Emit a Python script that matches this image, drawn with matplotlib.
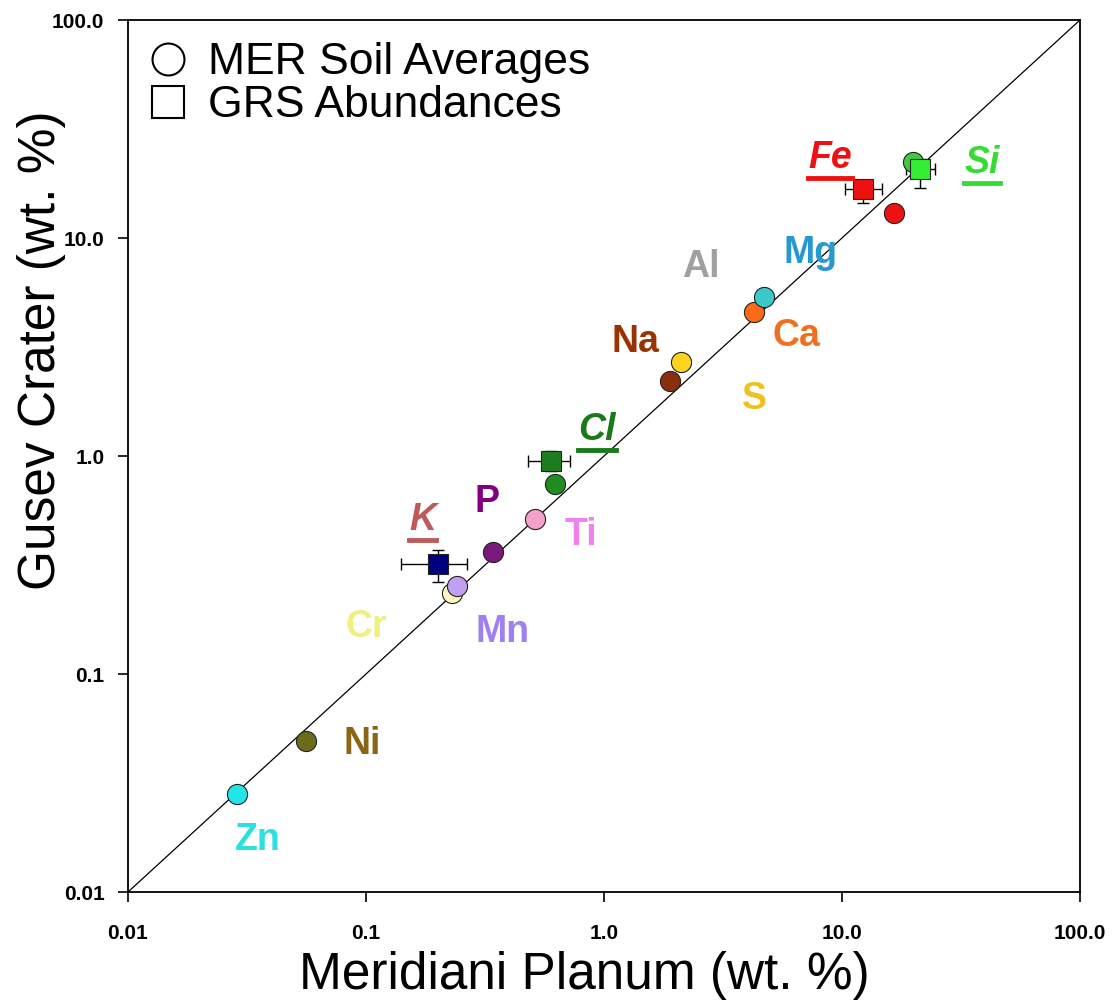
import numpy as np
import matplotlib
matplotlib.use('Agg')
import matplotlib.pyplot as plt
from matplotlib.lines import Line2D

plt.rcParams['font.family'] = ['Liberation Sans', 'DejaVu Sans']

# MER soil averages (circles), wt. %
soil_elements = ['Zn', 'Ni', 'Cr', 'Mn', 'P', 'Ti', 'Cl', 'Na', 'S', 'Ca', 'Mg', 'Fe', 'Si']
soil_meridiani = [0.0287, 0.056, 0.23, 0.241, 0.342, 0.513, 0.622, 1.89, 2.11, 4.27, 4.70, 16.5, 19.9]
soil_gusev = [0.0282, 0.0493, 0.236, 0.254, 0.363, 0.514, 0.744, 2.21, 2.70, 4.58, 5.36, 13.0, 22.3]
soil_colors = ['#22E5E8', '#6B6B1A', '#FFF5C0', '#C0A0F0', '#7A1A7A', '#F5A0C8', '#1E8C1E',
               '#8B2E0A', '#FFD21E', '#FF6A1A', '#3CC8C8', '#EE1111', '#3CCC3C']

# GRS abundances (squares) with error ranges
grs_elements = ['K', 'Cl', 'Fe', 'Si']
grs_meridiani = [0.20, 0.598, 12.3, 21.3]
grs_gusev = [0.32, 0.948, 16.8, 20.7]
grs_x_low = [0.140, 0.479, 10.3, 18.5]
grs_x_high = [0.265, 0.72, 14.7, 24.6]
grs_y_low = [0.264, 0.85, 14.5, 16.9]
grs_y_high = [0.37, 1.05, 18.5, 23.0]
grs_colors = ['#00007F', '#1E7D1E', '#EE1111', '#33EE33']

# element labels
label_text = ['Fe', 'Si', 'Mg', 'Al', 'Na', 'Ca', 'S', 'Cl', 'P', 'Ti', 'K', 'Mn', 'Cr', 'Ni', 'Zn']
label_colors = ['#EE1111', '#33DD33', '#2898D0', '#A0A0A0', '#993300', '#F07020', '#F0C020',
                '#1A7A1A', '#800080', '#EE82EE', '#C05A5A', '#A080F0', '#F0F080', '#8B6414', '#2CE0E0']
underlined = ['Fe', 'Si', 'Cl', 'K']

# where each label sits (data coords)
label_pos = {'Fe': (8.91, 23.3), 'Si': (38.7, 22.1), 'Mg': (7.41, 8.53), 'Al': (2.56, 7.36),
             'Na': (1.36, 3.33), 'Ca': (6.41, 3.55), 'S': (4.27, 1.83), 'Cl': (0.935, 1.32),
             'P': (0.322, 0.615), 'Ti': (0.80, 0.434), 'K': (0.173, 0.509), 'Mn': (0.373, 0.156),
             'Cr': (0.10, 0.164), 'Ni': (0.0962, 0.0477), 'Zn': (0.0352, 0.0173)}

ticks = [0.01, 0.1, 1.0, 10.0, 100.0]
tick_labels = ['0.01', '0.1', '1.0', '10.0', '100.0']

fig = plt.figure(figsize=(11.17, 10.05), dpi=100)
ax = fig.add_axes([128 / 1117, 1 - 892 / 1005, 952 / 1117, 872 / 1005])

ax.plot([0.01, 100], [0.01, 100], color='black', lw=0.9, zorder=1)

for x, y, c in zip(soil_meridiani, soil_gusev, soil_colors):
    ax.plot(x, y, 'o', ms=14.5, mfc=c, mec='#222222', mew=0.8, zorder=3)

gm = np.array(grs_meridiani)
gg = np.array(grs_gusev)
xerr = [gm - np.array(grs_x_low), np.array(grs_x_high) - gm]
yerr = [gg - np.array(grs_y_low), np.array(grs_y_high) - gg]
ax.errorbar(gm, gg, xerr=xerr, yerr=yerr, fmt='none', ecolor='black', elinewidth=1,
            capsize=4.5, capthick=1, zorder=2)
for x, y, c in zip(grs_meridiani, grs_gusev, grs_colors):
    ax.plot(x, y, 's', ms=14, mfc=c, mec='#222222', mew=0.8, zorder=4)

texts = []
for name, col in zip(label_text, label_colors):
    x, y = label_pos[name]
    style = 'italic' if name in underlined else 'normal'
    t = ax.text(x, y, name, color=col, fontsize=27, fontweight='bold', style=style,
                ha='center', va='center', zorder=5)
    texts.append((name, t, col))

ax.set_xscale('log')
ax.set_yscale('log')
ax.set_xlim(0.01, 100)
ax.set_ylim(0.01, 100)
ax.set_xticks(ticks)
ax.set_xticklabels(tick_labels)
ax.set_yticks(ticks)
ax.set_yticklabels(tick_labels)
ax.minorticks_off()
ax.tick_params(axis='x', direction='out', length=7, width=1.2, pad=16, labelsize=15)
ax.tick_params(axis='y', direction='out', length=7, width=1.2, pad=10, labelsize=15)
for lab in ax.get_xticklabels() + ax.get_yticklabels():
    lab.set_fontweight('bold')
for s in ax.spines.values():
    s.set_linewidth(1.3)

fig.text(584 / 1117, 1 - 975 / 1005, 'Meridiani Planum (wt. %)', fontsize=37,
         ha='center', va='center')
fig.text(42 / 1117, 1 - 350 / 1005, 'Gusev Crater (wt. %)', fontsize=37,
         rotation=90, ha='center', va='center')

handles = [Line2D([], [], marker='o', ls='none', ms=23, mfc='white', mec='black', mew=1.5),
           Line2D([], [], marker='s', ls='none', ms=23, mfc='white', mec='black', mew=1.5)]
ax.legend(handles, ['MER Soil Averages', 'GRS Abundances'], loc='upper left', fontsize=32,
          frameon=False, handlelength=0.8, handletextpad=0.5, labelspacing=0.05,
          borderaxespad=0.2, borderpad=0.3)

# underline the GRS elements
fig.canvas.draw()
renderer = fig.canvas.get_renderer()
for name, t, col in texts:
    if name in underlined:
        bb = t.get_window_extent(renderer)
        yline = bb.y0 - 2
        fig.add_artist(Line2D([bb.x0 / 1117, bb.x1 / 1117], [yline / 1005, yline / 1005],
                              color=col, lw=3.5))

fig.savefig('out.png', dpi=100)
